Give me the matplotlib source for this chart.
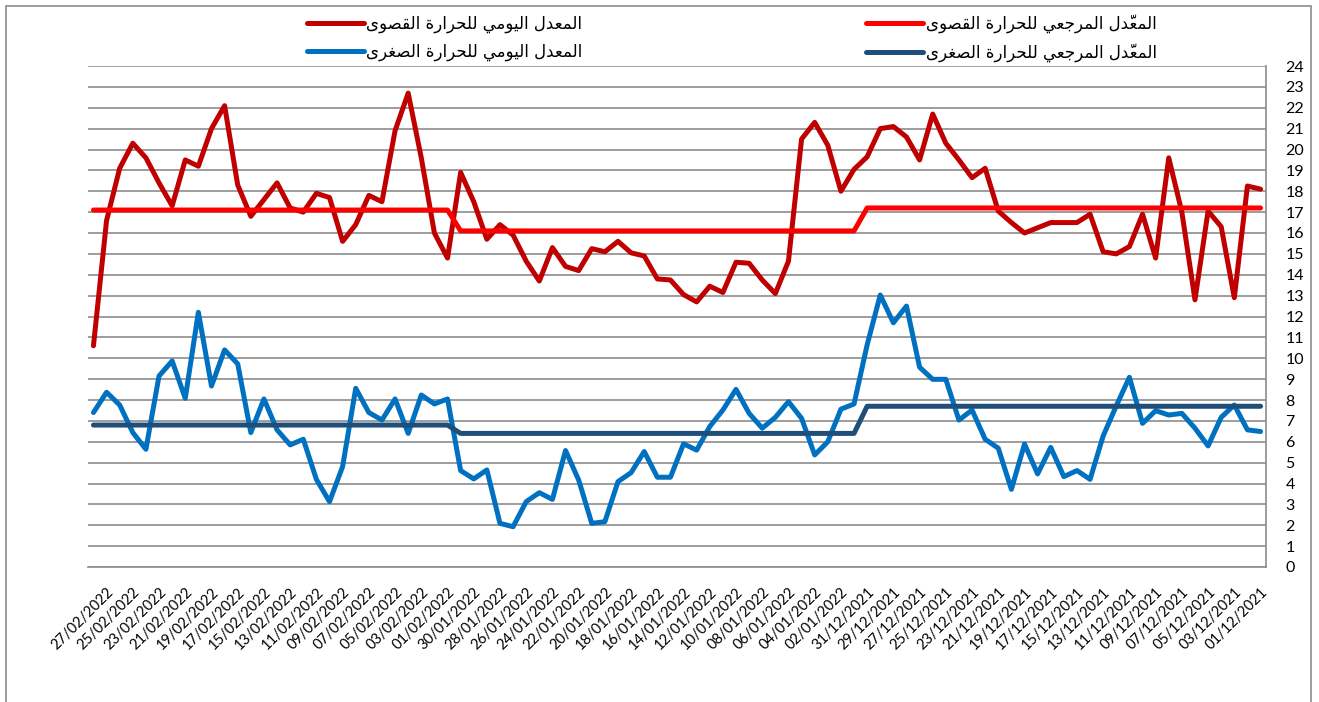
import numpy as np
import pandas as pd
import matplotlib
matplotlib.use("Agg")
import matplotlib.pyplot as plt
from matplotlib.lines import Line2D
from matplotlib.patches import Rectangle

# days as they appear from left to right: 28/02/2022 back to 01/12/2021
dates = pd.date_range("2021-12-01", "2022-02-28", freq="D")[::-1]

# daily mean of the maximum temperature (same left-to-right order)
t_max = [10.6, 16.6, 19.1, 20.3, 19.6, 18.4, 17.3, 19.5, 19.2, 21.0,
         22.1, 18.3, 16.8, 17.6, 18.4, 17.2, 17.0, 17.9, 17.7, 15.6,
         16.4, 17.8, 17.5, 20.9, 22.7, 19.6, 16.0, 14.8, 18.9, 17.5,
         15.7, 16.4, 15.9, 14.65, 13.7, 15.3, 14.4, 14.2, 15.25, 15.1,
         15.6, 15.05, 14.9, 13.8, 13.75, 13.05, 12.7, 13.45, 13.15, 14.6,
         14.55, 13.75, 13.1, 14.65, 20.5, 21.3, 20.2, 18.0, 19.05, 19.65,
         21.0, 21.1, 20.6, 19.5, 21.7, 20.3, 19.5, 18.65, 19.1, 17.05,
         16.5, 16.0, 16.25, 16.5, 16.5, 16.5, 16.9, 15.1, 15.0, 15.35,
         16.9, 14.8, 19.6, 17.0, 12.8, 17.05, 16.3, 12.9, 18.25, 18.1]

# daily mean of the minimum temperature
t_min = [7.4, 8.37, 7.76, 6.44, 5.64, 9.15, 9.87, 8.08, 12.2, 8.67,
         10.4, 9.73, 6.44, 8.05, 6.57, 5.85, 6.12, 4.2, 3.13, 4.81,
         8.56, 7.4, 7.04, 8.05, 6.4, 8.24, 7.81, 8.05, 4.62, 4.22,
         4.65, 2.09, 1.93, 3.13, 3.56, 3.24, 5.58, 4.17, 2.09, 2.17,
         4.09, 4.52, 5.53, 4.3, 4.3, 5.9, 5.6, 6.73, 7.52, 8.51,
         7.36, 6.65, 7.17, 7.92, 7.12, 5.37, 6.0, 7.56, 7.81, 10.64,
         13.03, 11.7, 12.5, 9.57, 8.99, 8.99, 7.04, 7.52, 6.12, 5.69,
         3.72, 5.89, 4.46, 5.73, 4.33, 4.62, 4.2, 6.28, 7.72, 9.09,
         6.88, 7.49, 7.28, 7.36, 6.65, 5.8, 7.17, 7.76, 6.57, 6.49]

# monthly reference values
ref_months = ["2022-02", "2022-01", "2021-12"]
ref_max = [17.1, 16.1, 17.2]
ref_min = [6.8, 6.4, 7.7]

lbl_max = "المعدل اليومي للحرارة القصوى"
lbl_min = "المعدل اليومي للحرارة الصغرى"
lbl_ref_max = "المعدّل المرجعي للحرارة القصوى"
lbl_ref_min = "المعدّل المرجعي للحرارة الصغرى"

# matplotlib does no arabic shaping, so pick presentation forms by hand
FORMS = {
    "ا": (0xFE8D, 0xFE8E, None, None),
    "ة": (0xFE93, 0xFE94, None, None),
    "ج": (0xFE9D, 0xFE9E, 0xFE9F, 0xFEA0),
    "ح": (0xFEA1, 0xFEA2, 0xFEA3, 0xFEA4),
    "د": (0xFEA9, 0xFEAA, None, None),
    "ر": (0xFEAD, 0xFEAE, None, None),
    "ص": (0xFEB9, 0xFEBA, 0xFEBB, 0xFEBC),
    "ع": (0xFEC9, 0xFECA, 0xFECB, 0xFECC),
    "غ": (0xFECD, 0xFECE, 0xFECF, 0xFED0),
    "ق": (0xFED5, 0xFED6, 0xFED7, 0xFED8),
    "ل": (0xFEDD, 0xFEDE, 0xFEDF, 0xFEE0),
    "م": (0xFEE1, 0xFEE2, 0xFEE3, 0xFEE4),
    "و": (0xFEED, 0xFEEE, None, None),
    "ى": (0xFEEF, 0xFEF0, None, None),
    "ي": (0xFEF1, 0xFEF2, 0xFEF3, 0xFEF4),
}
MARKS = set("\u064b\u064c\u064d\u064e\u064f\u0650\u0651\u0652")


def shape_ar(text):
    chars = list(text)
    letters = [i for i, c in enumerate(chars) if c not in MARKS]
    glyph = {}
    for k, i in enumerate(letters):
        c = chars[i]
        if c not in FORMS:
            glyph[i] = c
            continue
        prev = chars[letters[k - 1]] if k > 0 else " "
        nxt = chars[letters[k + 1]] if k + 1 < len(letters) else " "
        j_prev = prev in FORMS and FORMS[prev][2] is not None
        j_next = FORMS[c][2] is not None and nxt in FORMS
        iso, fin, ini, med = FORMS[c]
        if j_prev and j_next:
            g = med
        elif j_prev:
            g = fin
        elif j_next:
            g = ini
        else:
            g = iso
        glyph[i] = chr(g)
    clusters = []
    for i, c in enumerate(chars):
        if c in MARKS and clusters:
            clusters[-1] += c
        else:
            clusters.append(glyph[i])
    return "".join(reversed(clusters))


c_max, c_ref_max = "#C00000", "#FF0000"
c_min, c_ref_min = "#0070C0", "#1F4E79"
grid_c = "#8c8c8c"

month_key = dates.strftime("%Y-%m")
ref_max_daily = month_key.map(dict(zip(ref_months, ref_max))).astype(float)
ref_min_daily = month_key.map(dict(zip(ref_months, ref_min))).astype(float)

W, H = 1319, 702
fig = plt.figure(figsize=(W / 100, H / 100), dpi=100)
ax = fig.add_axes([88 / W, 1 - 567 / H, (1266 - 88) / W, (567 - 66) / H])

line_kw = dict(lw=3.6, solid_capstyle="round", solid_joinstyle="round")
ax.plot(dates, t_max, color=c_max, **line_kw)
ax.plot(dates, t_min, color=c_min, **line_kw)
ax.plot(dates, ref_max_daily, color=c_ref_max, **line_kw)
ax.plot(dates, ref_min_daily, color=c_ref_min, **line_kw)

pad = pd.Timedelta(hours=10)
ax.set_xlim(dates[0] + pad, dates[-1] - pad)
ax.set_ylim(0, 24)

tick_dates = dates[::-1][::2]
ax.set_xticks(tick_dates)
ax.set_xticklabels([d.strftime("%d/%m/%Y") for d in tick_dates],
                   rotation=45, ha="right", va="top", rotation_mode="anchor",
                   family="Lato", fontsize=10.5)
ax.set_yticks(range(0, 25))
ax.yaxis.tick_right()
ax.tick_params(axis="y", length=0, pad=14, labelsize=11.5)
ax.tick_params(axis="x", length=0, pad=13)
for t in ax.get_yticklabels():
    t.set_family("Lato")

ax.grid(axis="y", color=grid_c, lw=1.2)
ax.set_axisbelow(True)
for s in ["left", "top"]:
    ax.spines[s].set_visible(False)
for s in ["right", "bottom"]:
    ax.spines[s].set_color(grid_c)
    ax.spines[s].set_linewidth(1.2)

# legend: two separate columns
leg_kw = dict(loc="upper left", frameon=False, handlelength=3.4,
              handletextpad=0.15, borderpad=0, labelspacing=0.6,
              prop={"family": "DejaVu Sans", "size": 12})
h = lambda c: Line2D([], [], color=c, lw=3.6, solid_capstyle="round")
fig.legend([h(c_max), h(c_min)], [shape_ar(lbl_max), shape_ar(lbl_min)],
           bbox_to_anchor=(299 / W, 1 - 6 / H), **leg_kw)
fig.legend([h(c_ref_max), h(c_ref_min)], [shape_ar(lbl_ref_max), shape_ar(lbl_ref_min)],
           bbox_to_anchor=(858 / W, 1 - 6 / H), **leg_kw)

# outer chart frame
fig.patches.append(Rectangle((6 / W, -0.02), (1311 - 6) / W, 1.02 - 6 / H,
                             transform=fig.transFigure, fill=False,
                             edgecolor=grid_c, lw=1.2))

fig.savefig("out.png", dpi=100)
